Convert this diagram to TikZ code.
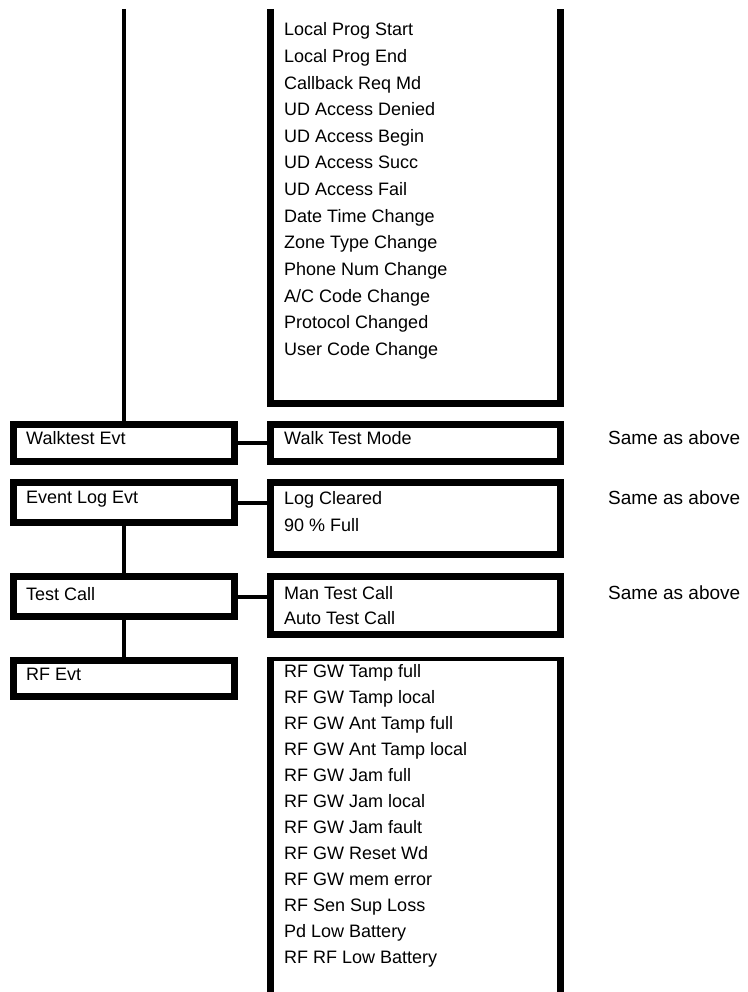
\documentclass[tikz,border=0pt]{standalone}
\usepackage{fontspec}
\setmainfont{Liberation Sans}
\begin{document}
\begin{tikzpicture}[x=1pt,y=-1pt,
  lbox/.style={draw,line width=7pt,inner sep=0pt,minimum width=220.5pt},
  rbox/.style={draw,line width=7pt,inner sep=0pt,minimum width=290pt},
  frame/.style={line width=7pt,line join=miter},
  conn/.style={line width=4pt},
  txt/.style={font=\fontsize{18}{22}\selectfont,anchor=base west,inner sep=0pt}]
\useasboundingbox (0,0) rectangle (747,992);
% left boxes
\node[lbox,minimum height=37pt]   (wt)  at (123.75,442.5) {};
\node[lbox,minimum height=39.6pt] (el)  at (123.75,502.5) {};
\node[lbox,minimum height=39.6pt] (tc)  at (123.75,596.5) {};
\node[lbox,minimum height=36.4pt] (rf)  at (123.75,678.5) {};
% right boxes
\node[rbox,minimum height=37pt]   (wtm) at (415.5,442.5) {};
\node[rbox,minimum height=72.3pt] (lc)  at (415.5,518.8) {};
\node[rbox,minimum height=58.3pt] (mtc) at (415.5,605.8) {};
% top open list box
\coordinate (tbA) at (270.5,9);
\coordinate (tbB) at (270.5,403);
\coordinate (tbC) at (560.5,403);
\coordinate (tbD) at (560.5,9);
\draw[frame] (tbA) -- (tbB) -- (tbC) -- (tbD);
% bottom open list box
\coordinate (rbA) at (270.5,992);
\coordinate (rbB) at (270.5,657);
\coordinate (rbC) at (560.5,657);
\coordinate (rbD) at (560.5,992);
\draw[frame] (rbA) -- (rbB);
\draw[frame] (rbC) -- (rbD);
\draw[line width=3.5pt] ([xshift=-3.5pt,yshift=-1.75pt]rbB) -- ([xshift=3.5pt,yshift=-1.75pt]rbC);
% connectors
\coordinate (topL) at (123.75,9);
\draw[conn] (topL) -- (wt.north);
\draw[conn] (wt.east) -- (wtm.west |- wt.east);
\draw[conn] (el.east) -- (lc.west |- el.east);
\draw[conn] (tc.east) -- (mtc.west |- tc.east);
\draw[conn] (el.south) -- (tc.north);
\draw[conn] (tc.south) -- (rf.north);
% left texts
\node[txt] (t-wt) at (26,444) {Walktest Evt};
\node[txt] (t-el) at (26,503) {Event Log Evt};
\node[txt] (t-tc) at (26,600) {Test Call};
\node[txt] (t-rf) at (26,680) {RF Evt};
% right box texts
\node[txt] (t-wtm) at (284,444) {Walk Test Mode};
\node[txt] (t-lc1) at (284,504) {Log Cleared};
\node[txt] (t-lc2) at (284,531) {90 \% Full};
\node[txt] (t-mt1) at (284,599) {Man Test Call};
\node[txt] (t-mt2) at (284,624) {Auto Test Call};
% same as above
\node[txt,font=\fontsize{19}{22}\selectfont] (s1) at (608,444) {Same as above};
\node[txt,font=\fontsize{19}{22}\selectfont] (s2) at (608,504) {Same as above};
\node[txt,font=\fontsize{19}{22}\selectfont] (s3) at (608,599) {Same as above};
% top list
\foreach \t [count=\i from 0] in {Local Prog Start,Local Prog End,Callback Req Md,UD Access Denied,UD Access Begin,UD Access Succ,UD Access Fail,Date Time Change,Zone Type Change,Phone Num Change,A/C Code Change,Protocol Changed,User Code Change}
  \node[txt] (top\i) at (284,36+26.6*\i) {\t};
% rf list
\foreach \t [count=\i from 0] in {RF GW Tamp full,RF GW Tamp local,RF GW Ant Tamp full,RF GW Ant Tamp local,RF GW Jam full,RF GW Jam local,RF GW Jam fault,RF GW Reset Wd,RF GW mem error,RF Sen Sup Loss,Pd Low Battery,RF RF Low Battery}
  \node[txt] (rfl\i) at (284,677+26*\i) {\t};
\end{tikzpicture}
\end{document}
